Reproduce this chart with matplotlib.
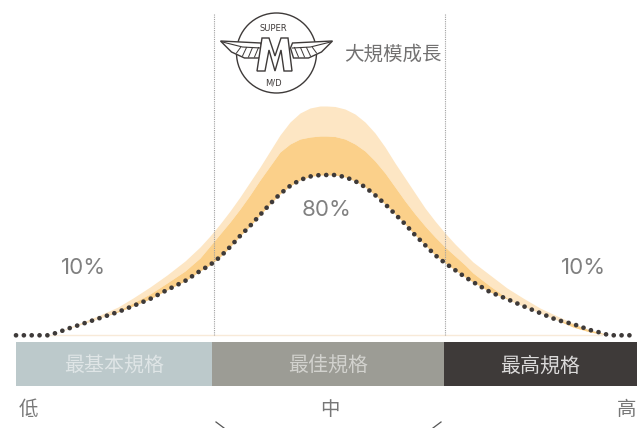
import matplotlib
matplotlib.use("Agg")
import matplotlib.pyplot as plt
from matplotlib.patches import Circle, Polygon, Rectangle

plt.rcParams['font.family'] = ['Noto Sans CJK TC', 'DejaVu Sans']

# curve readings, all in picture pixels (y goes down)
curve_x = [16, 48, 56, 70, 85, 100, 118, 133, 150, 167, 185, 200, 210, 220, 230, 240, 250, 260, 270, 280, 290, 300,
           310, 320, 327, 335, 345, 355, 365, 375, 385, 395, 405, 415, 425, 435, 445, 455, 465, 473, 490, 507, 523,
           540, 557, 573, 590, 602, 609, 634]
normal = [335.3, 335.3, 333, 328, 323, 318, 312, 306, 299, 290, 281, 271, 265, 257, 247, 236, 226, 215, 204, 194, 186, 180,
          176.5, 175, 175, 175, 177, 181, 187, 195, 204, 214, 224, 235, 245, 255, 263, 270, 277, 282, 292, 299, 306,
          313, 320, 324, 330, 333, 335.3, 335.3]
growth = [335.3, 335.3, 333, 328, 322.5, 318, 310.5, 303, 294, 283, 271, 258, 246, 234, 222, 209, 195, 180, 166, 152, 144, 139,
          137, 136, 136, 136.5, 139, 144, 151, 161, 173, 187, 201, 214, 226, 237, 247, 256, 265, 273, 286, 298, 306,
          313, 320, 327, 332, 334, 335.3, 335.3]
top = [335.3, 335.3, 333, 327, 321, 315, 307, 298, 287, 275, 261, 247, 236, 224, 211, 197, 182, 167, 151, 135, 122, 113,
       108, 106, 106, 106.5, 109, 114, 122, 133, 147, 163, 178, 193, 208, 221, 233, 244, 254, 262, 275, 288, 298,
       308, 316, 323, 331, 334, 335.3, 335.3]

segments = ['最基本規格', '最佳規格', '最高規格']
segment_edges = [16, 212, 444, 637]
segment_colors = ['#bcc9cb', '#9c9c95', '#3e3a39']
segment_text = ['#dfe5e6', '#d2d2ce', '#dcdbdb']
share_labels = ['10%', '80%', '10%']
share_x = [84, 327, 584]
share_y = [267.5, 209.5, 267.5]
axis_labels = ['低', '中', '高']
axis_label_x = [28, 330, 627]

fig = plt.figure(figsize=(6.37, 4.28), dpi=100)
ax = fig.add_axes([0, 0, 1, 1])
ax.set_xlim(0, 637)
ax.set_ylim(428, 0)
ax.axis('off')

# bands under the curve
ax.fill_between(curve_x, top, growth, color='#fde6c4', lw=0)
ax.fill_between(curve_x, growth, normal, color='#fbd08a', lw=0)
ax.plot([48, 602], [335.3, 335.3], color='#f8ead8', lw=1)

# dashed guides
for gx in [213.5, 444.5]:
    ax.plot([gx, gx], [14, 335], color='#a0a0a0', lw=0.8, ls=(0, (1, 1)))

# the dotted normal curve
ax.plot(curve_x, normal, color='#3e3a39', lw=3.4, ls=(0, (0.01, 1.65)), dash_capstyle='round')

# bars
for i in range(3):
    ax.add_patch(Rectangle((segment_edges[i], 342), segment_edges[i + 1] - segment_edges[i], 44,
                           color=segment_colors[i], lw=0))
    ax.text((segment_edges[i] + segment_edges[i + 1]) / 2, 366, segments[i], color=segment_text[i],
            fontsize=14.4, ha='center', va='center')

for lab, lx, ly in zip(share_labels, share_x, share_y):
    ax.text(lx, ly, lab, color='#808080', fontsize=16, ha='center', va='center', family='Inter')
for lab, lx in zip(axis_labels, axis_label_x):
    ax.text(lx, 409.5, lab, color='#777777', fontsize=14, ha='center', va='center')

ax.text(392.5, 54, '大規模成長', color='#727171', fontsize=14, ha='center', va='center')

# little chevrons cut off at the bottom
ax.plot([216, 224], [422, 428], color='#555555', lw=0.9)
ax.plot([441, 433], [422, 428], color='#555555', lw=0.9)

# logo
line = '#3e3a39'
cx = 276.5
ax.add_patch(Circle((cx, 53), 40, fill=False, ec=line, lw=1))
for side in [-1, 1]:
    wing = [(cx + side * 56, 41), (cx + side * 16, 43), (cx + side * 14, 48), (cx + side * 17, 58),
            (cx + side * 32, 58), (cx + side * 45, 52)]
    ax.add_patch(Polygon(wing, closed=True, fc='white', ec=line, lw=1, zorder=3))
    ax.plot([cx + side * 54, cx + side * 34, cx + side * 16], [42, 47, 48], color=line, lw=0.8, zorder=4)
    for d, y0 in zip([22, 28, 34, 40], [57, 57, 56, 53]):
        ax.plot([cx + side * d, cx + side * (d - 4)], [y0, 47.5], color=line, lw=0.7, zorder=4)
m_x = [262, 269, 275, 281, 288, 292, 284, 281, 275, 269, 265, 257]
m_y = [38, 38, 56, 38, 38, 71, 71, 50, 71, 50, 71, 71]
ax.add_patch(Polygon(list(zip(m_x, m_y)), closed=True, fc='white', ec=line, lw=1, zorder=5))
ax.text(273, 28, 'SUPER', color=line, fontsize=6, ha='center', va='center', family='DejaVu Sans')
ax.text(273, 83, 'M/D', color=line, fontsize=6, ha='center', va='center', family='DejaVu Sans')

fig.savefig('out.png', dpi=100)
